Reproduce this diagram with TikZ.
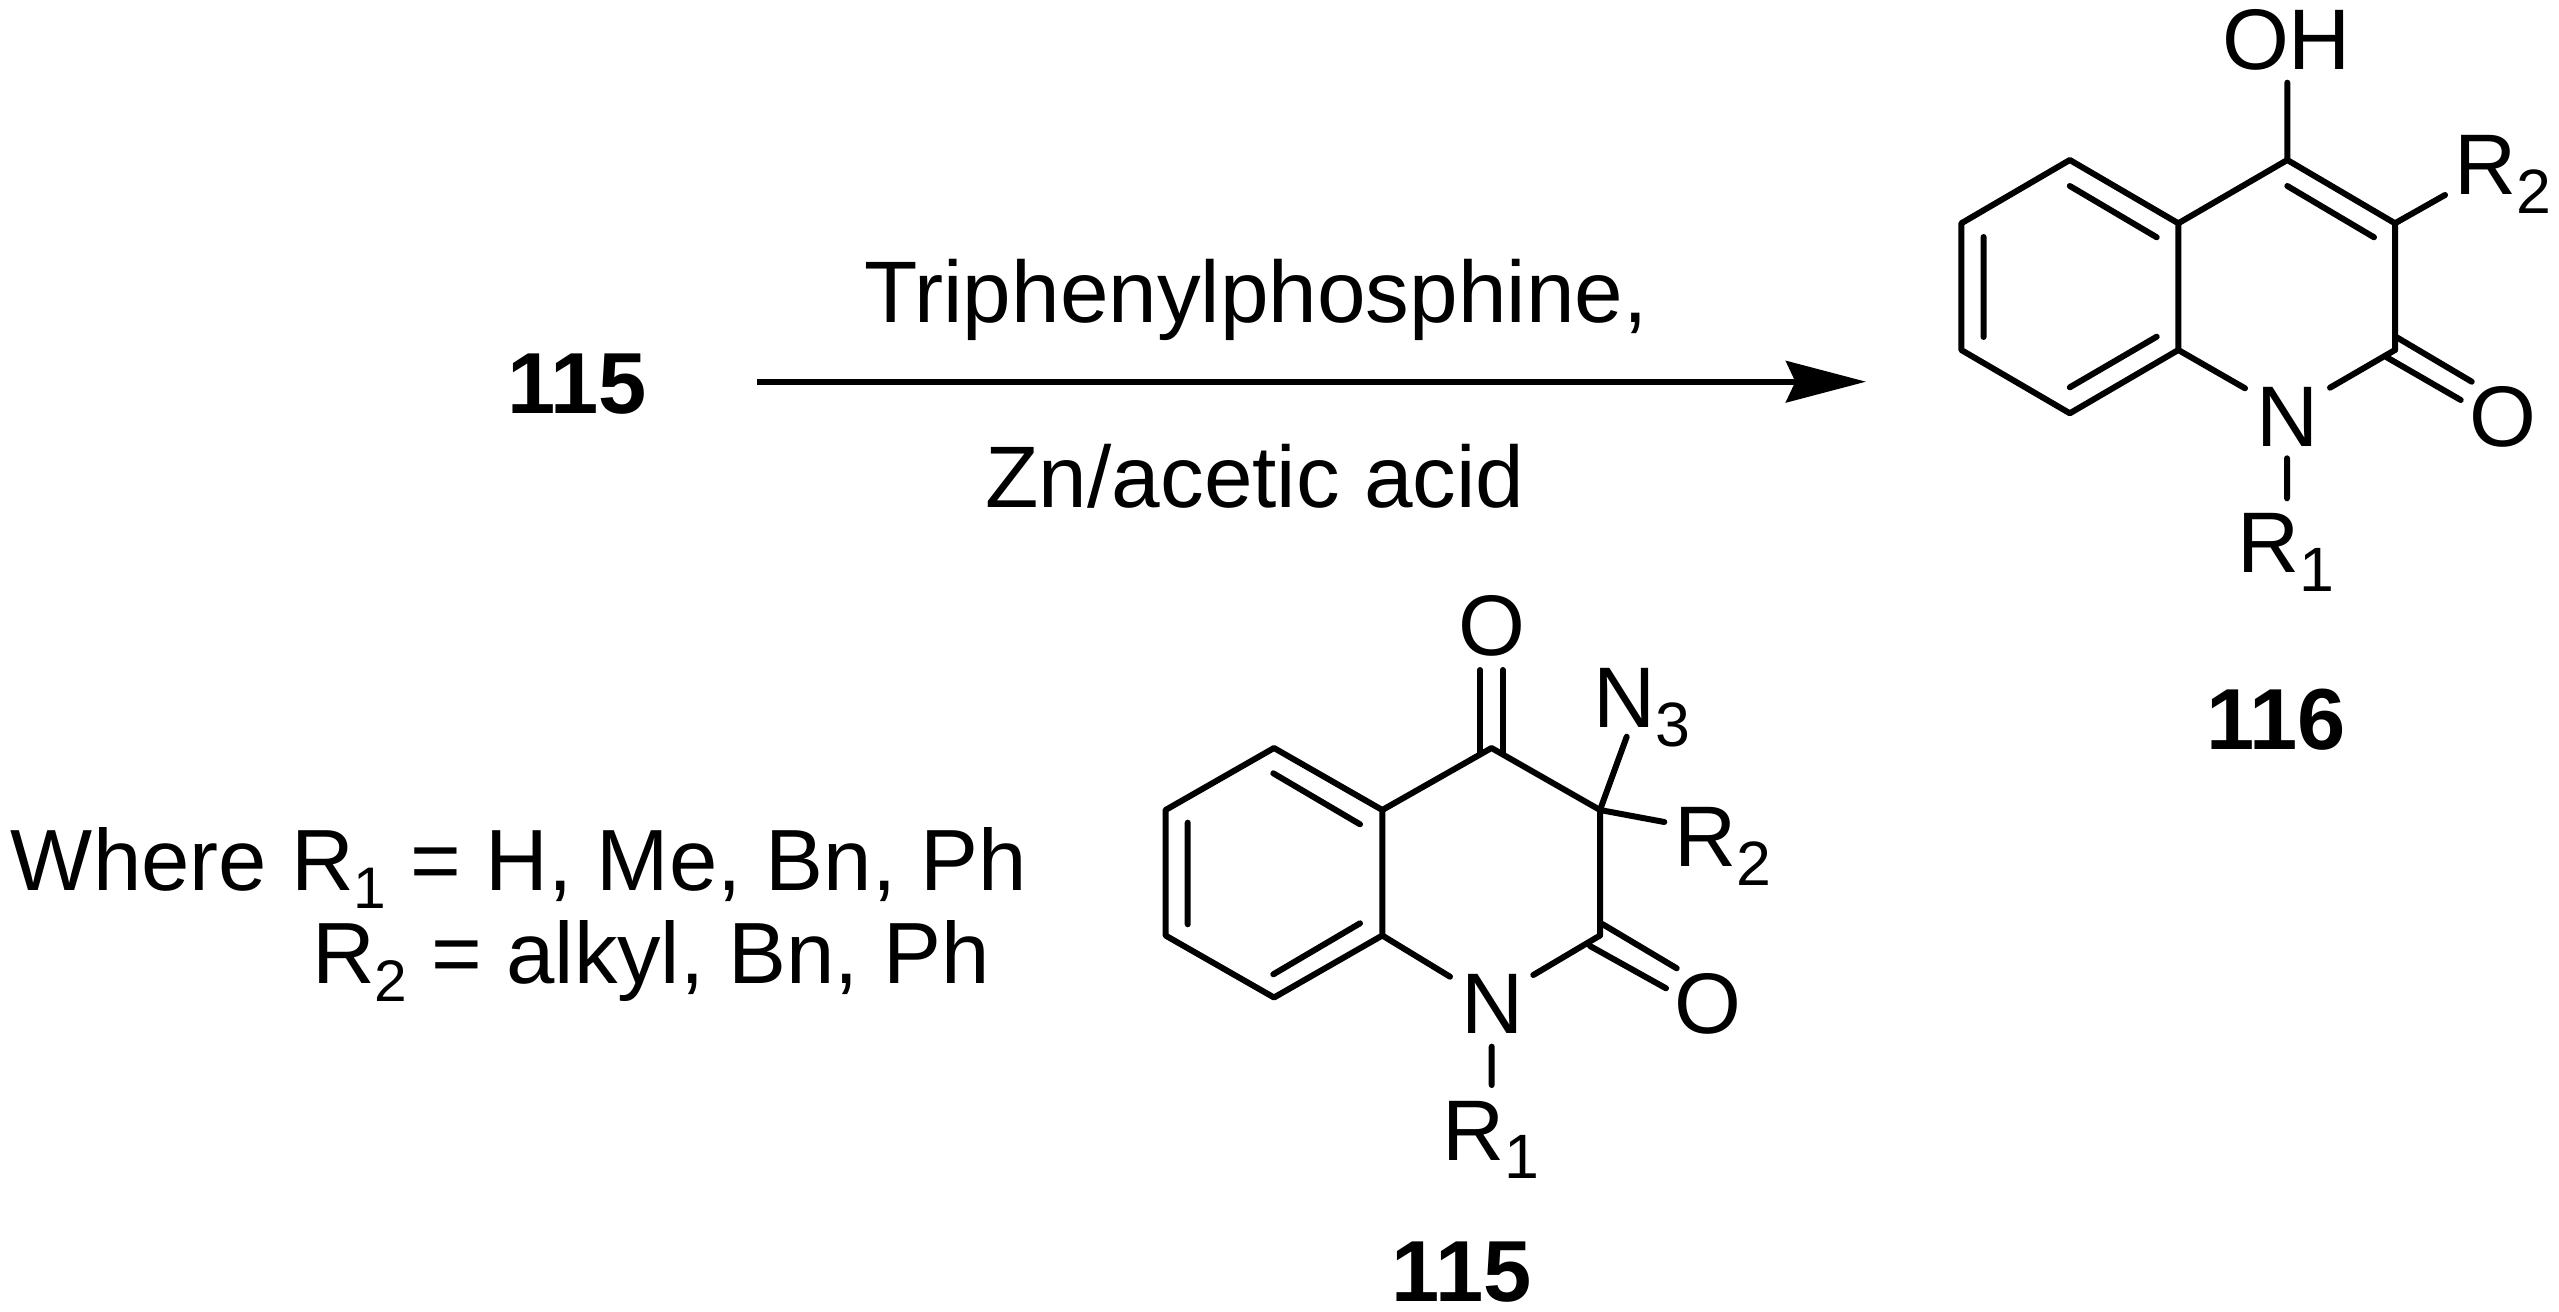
\documentclass[tikz,border=0pt]{standalone}
\usepackage{fontspec}
\setmainfont{Liberation Sans}
\usetikzlibrary{arrows.meta}
\newcommand{\lowsub}[2][47]{\raisebox{-14pt}{\fontsize{#1}{#1}\selectfont #2}}
\begin{document}
\begin{tikzpicture}[x=0.75pt,y=-0.75pt,
  bond/.style={line width=4.5pt,line cap=round,line join=round,black},
  atomw/.style={inner sep=0pt,outer sep=0pt,anchor=base west,font=\fontsize{64.5}{64.5}\selectfont},
  atom/.style={inner sep=0pt,outer sep=0pt,anchor=base,font=\fontsize{64.5}{64.5}\selectfont},
  label/.style={inner sep=0pt,outer sep=0pt,anchor=base,font=\fontsize{65}{65}\selectfont\bfseries},
  reag/.style={inner sep=0pt,outer sep=0pt,anchor=base,font=\fontsize{65.5}{65.5}\selectfont},
  note/.style={inner sep=0pt,outer sep=0pt,anchor=base west,font=\fontsize{65.2}{65.2}\selectfont}]
\useasboundingbox (0,0) rectangle (2559,1312);
% reaction
\node[label] (a) at (577,414) {115};
\coordinate (as) at (757,381.7);
\coordinate (ae) at (1866,381.7);
\draw[line width=4.5pt,-{Stealth[length=60pt,width=31pt,inset=7pt]}] (as) -- (ae);
\node[reag] (t) at (1256,323) {Triphenylphosphine,};
\node[reag] (z) at (1255,507) {Zn/acetic acid};
% 116
\coordinate (a1) at (2069.8,160);\coordinate (a2) at (2178.3,223.3);\coordinate (a3) at (2178.3,350);
\coordinate (a4) at (2069.8,413.3);\coordinate (a5) at (1961.3,350);\coordinate (a6) at (1961.3,223.3);
\coordinate (a7) at (2287.3,160);\coordinate (a8) at (2395,223.3);\coordinate (a9) at (2395,350);
\coordinate (ae1) at (2287.3,82.7);\coordinate (ae2) at (2445,195);
\coordinate (ae3) at (2245,388.3);\coordinate (ae4) at (2330,387.7);
\draw[bond] (a3)--(a4)--(a5)--(a6)--(a1)--(a2)--(a3);
\draw[bond] (a2)--(a7)--(a8)--(a9);
\draw[bond] (2069.8,186)--(2156.7,237.3) (2069.8,387.3)--(2156.7,336.7) (1983.6,237)--(1983.6,337) (2287.3,186)--(2374,237.3);
\draw[bond] (a7)--(ae1) (a8)--(ae2);
\draw[bond] (2396.7,337.3)--(2471.7,381.7) (2386.7,357.3)--(2460.7,400);
\draw[bond] (a3)--(ae3) (a9)--(ae4) (2287,458.3)--(2287,498.3);
\node[atomw] (oh) at (2222,69.3) {OH};
\node[atomw] (br2) at (2454,195) {R\lowsub{2}};
\node[atom] (bn) at (2287.5,446) {N};
\node[atom] (bo) at (2503.3,446) {O};
\node[atomw] (br1) at (2237.3,572.7) {R\lowsub{1}};
\node[label] (l116) at (2276,749) {116};
% 115
\coordinate (b1) at (1274,748);\coordinate (b2) at (1382.3,810);\coordinate (b3) at (1382.3,935.5);
\coordinate (b4) at (1274,997.5);\coordinate (b5) at (1165.5,935.5);\coordinate (b6) at (1165.5,810);
\coordinate (b7) at (1491.5,748);\coordinate (b8) at (1600,810);\coordinate (b9) at (1600,935.5);
\draw[bond] (b3)--(b4)--(b5)--(b6)--(b1)--(b2)--(b3);
\draw[bond] (b2)--(b7)--(b8)--(b9);
\draw[bond] (1273.3,773.3)--(1360,824.3) (1273.3,974.3)--(1360,923.3) (1187.7,822.7)--(1187.7,924.3);
\draw[bond] (1480,670)--(1480,754) (1502.7,670)--(1502.7,754);
\draw[bond] (b8)--(1626.7,736.7) (b8)--(1664.3,822);
\draw[bond] (1602.3,924)--(1676.7,968.3) (1590,946)--(1666,988.3);
\draw[bond] (b3)--(1450,976.7) (b9)--(1533.3,975) (1491.7,1046.7)--(1491.7,1085);
\node[atom] (o1) at (1491.7,655.7) {O};
\node[atomw] (n3) at (1593.5,727.7) {N\lowsub{3}};
\node[atomw] (r2) at (1674.7,866.7) {R\lowsub{2}};
\node[atom] (o2) at (1708.3,1033.3) {O};
\node[atom] (n) at (1492.3,1033.3) {N};
\node[atomw] (r1) at (1442,1160) {R\lowsub{1}};
\node[label] (l115) at (1461.5,1301) {115};
% text
\node[note] (w) at (11,890) {Where R\lowsub[44]{1} = H, Me, Bn, Ph};
\node[note] (w2) at (312,983) {R\lowsub[44]{2} = alkyl, Bn, Ph};
\end{tikzpicture}
\end{document}
